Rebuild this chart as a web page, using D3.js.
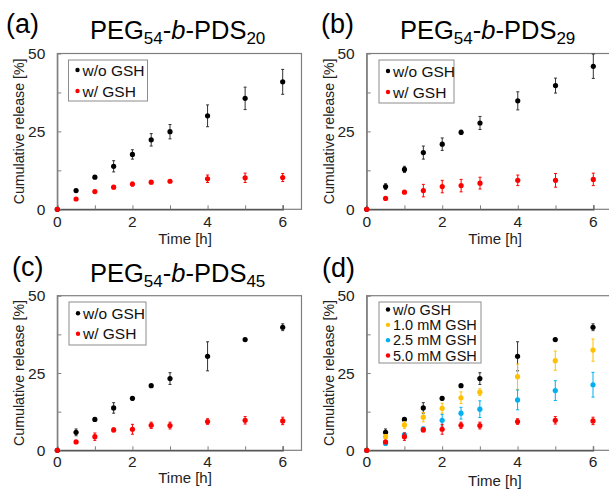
<!DOCTYPE html>
<html>
<head>
<meta charset="utf-8">
<script src="https://cdn.jsdelivr.net/npm/d3@7"></script>
<style>
  body { margin: 0; background: #fff; }
  text { font-family: "Liberation Sans", Arial, sans-serif; }
</style>
</head>
<body>
<div id="chart"></div>
<script>
const times = [0, 0.5, 1, 1.5, 2, 2.5, 3, 4, 5, 6];

const aWithout = [0, 6.0, 10.3, 13.8, 17.6, 22.3, 24.9, 30.0, 35.6, 40.9];
const aWithoutErr = [0, 0.4, 0.4, 1.8, 1.5, 2.0, 2.3, 3.5, 3.6, 4.0];
const aWith = [0, 3.3, 5.7, 7.1, 8.1, 8.7, 9.0, 9.8, 10.1, 10.2];
const aWithErr = [0, 0.3, 0.4, 0.5, 0.6, 0.5, 0.4, 1.2, 1.5, 1.3];

const bWithout = [0, 7.3, 12.8, 18.2, 20.9, 24.7, 27.7, 34.8, 39.7, 45.9];
const bWithoutErr = [0, 0.9, 1.0, 2.1, 2.0, 0.7, 2.1, 2.9, 2.4, 3.9];
const bWith = [0, 3.5, 5.5, 6.0, 7.3, 7.6, 8.4, 9.3, 9.3, 9.6];
const bWithErr = [0, 0.3, 0.4, 2.0, 2.0, 2.0, 1.9, 1.7, 2.2, 2.0];

const cWithout = [0, 5.8, 10.0, 13.7, 16.8, 20.9, 23.2, 30.4, 35.8, 39.8];
const cWithoutErr = [0, 1.1, 0.4, 1.7, 0.6, 0.3, 1.9, 4.7, 0.4, 1.1];
const cWith = [0, 2.7, 4.4, 6.6, 6.8, 8.1, 8.0, 9.3, 9.7, 9.5];
const cWithErr = [0, 0.4, 1.2, 0.6, 1.6, 1.0, 1.1, 0.9, 1.2, 1.2];

const gsh10 = [0, 4.4, 8.2, 10.7, 13.6, 17.0, 18.8, 23.8, 29.0, 32.4];
const gsh10Err = [0, 0.6, 1.1, 1.5, 1.6, 1.9, 1.1, 4.1, 3.1, 3.6];
const gsh25 = [0, 2.2, 5.0, 6.9, 9.7, 12.0, 13.3, 16.3, 19.3, 21.2];
const gsh25Err = [0, 0.4, 0.6, 0.6, 1.9, 1.9, 2.7, 3.2, 3.2, 4.0];

const xTicks = [0, 2, 4, 6];
const yTicks = [0, 25, 50];

const BLACK = "#000", RED = "#ff0000", ORANGE = "#ffc000", BLUE = "#00b0f0";

const panels = [
  { tag: "(a)", sub: "20", left: 57.3, x6: 282.7, top: 53.5, bottom: 209.3,
    tagX: 6, tagY: 33, titleX: 90, titleY: 39, timeY: 244, tickDy: 18,
    legend: { x: 68.5, y: 60, w: 79, h: 41, step: 21, fs: 15.5 },
    series: [
      { name: "w/o GSH", color: BLACK, v: aWithout, e: aWithoutErr },
      { name: "w/ GSH", color: RED, v: aWith, e: aWithErr }] },
  { tag: "(b)", sub: "29", left: 366.7, x6: 593.3, top: 53.5, bottom: 209.3,
    tagX: 321, tagY: 33, titleX: 400, titleY: 39, timeY: 244, tickDy: 18,
    legend: { x: 379, y: 60, w: 75, h: 43, step: 21, fs: 15.5 },
    series: [
      { name: "w/o GSH", color: BLACK, v: bWithout, e: bWithoutErr },
      { name: "w/ GSH", color: RED, v: bWith, e: bWithErr }] },
  { tag: "(c)", sub: "45", left: 57.3, x6: 282.7, top: 295.7, bottom: 450.3,
    tagX: 12, tagY: 276, titleX: 90, titleY: 282, timeY: 483, tickDy: 17,
    legend: { x: 69, y: 302, w: 77, h: 43, step: 20.5, fs: 15.5 },
    series: [
      { name: "w/o GSH", color: BLACK, v: cWithout, e: cWithoutErr },
      { name: "w/ GSH", color: RED, v: cWith, e: cWithErr }] },
  { tag: "(d)", sub: null, left: 366.7, x6: 593, top: 295.7, bottom: 450.3,
    tagX: 322, tagY: 277, timeY: 486, tickDy: 17,
    legend: { x: 379, y: 302, w: 102, h: 61, step: 15.3, fs: 14.5 },
    series: [
      { name: "w/o GSH", color: BLACK, v: cWithout, e: cWithoutErr },
      { name: "1.0 mM GSH", color: ORANGE, v: gsh10, e: gsh10Err },
      { name: "2.5 mM GSH", color: BLUE, v: gsh25, e: gsh25Err },
      { name: "5.0 mM GSH", color: RED, v: cWith, e: cWithErr }] }
];

const svg = d3.select("#chart").append("svg")
  .attr("width", 609).attr("height", 489);

panels.forEach(p => {
  const x = d3.scaleLinear().domain([0, 6]).range([p.left, p.x6]);
  const y = d3.scaleLinear().domain([0, 50]).range([p.bottom, p.top]);
  const g = svg.append("g");

  // frame
  g.append("rect")
    .attr("x", x(0)).attr("y", y(50))
    .attr("width", x(6.5) - x(0)).attr("height", y(0) - y(50))
    .attr("fill", "none").attr("stroke", "#7f7f7f").attr("stroke-width", 1.2);

  // axes with inward ticks
  const xAxis = d3.axisBottom(x).tickValues([1, 2, 3, 4, 5, 6]).tickSize(-4).tickFormat("");
  g.append("g").attr("transform", `translate(0,${y(0)})`).call(xAxis)
    .call(s => s.select(".domain").attr("stroke", "#555").attr("stroke-width", 1.4))
    .call(s => s.selectAll(".tick line").attr("stroke", "#7f7f7f"));
  const yAxis = d3.axisLeft(y).tickValues([12.5, 25, 37.5]).tickSize(-4).tickFormat("");
  g.append("g").attr("transform", `translate(${x(0)},0)`).call(yAxis)
    .call(s => s.select(".domain").attr("stroke", "#7f7f7f").attr("stroke-width", 1.2))
    .call(s => s.selectAll(".tick line").attr("stroke", "#7f7f7f"));

  // tick labels
  g.selectAll(".xl").data(xTicks).join("text")
    .attr("x", d => x(d)).attr("y", y(0) + p.tickDy)
    .attr("text-anchor", "middle").attr("font-size", 15.5).attr("fill", "#222")
    .text(d => d);
  g.selectAll(".yl").data(yTicks).join("text")
    .attr("x", x(0) - 12).attr("y", d => y(d) + 5.5)
    .attr("text-anchor", "end").attr("font-size", 15.5).attr("fill", "#222")
    .text(d => d);

  // axis titles
  g.append("text")
    .attr("x", x(3.4)).attr("y", p.timeY)
    .attr("text-anchor", "middle").attr("font-size", 15).attr("fill", "#222")
    .text("Time [h]");
  g.append("text")
    .attr("transform", `translate(${x(0) - 33},${y(25)}) rotate(-90)`)
    .attr("text-anchor", "middle").attr("font-size", 14.2).attr("fill", "#222")
    .text("Cumulative release [%]");

  // panel tag and title
  g.append("text").attr("x", p.tagX).attr("y", p.tagY)
    .attr("font-size", 27).text(p.tag);
  if (p.sub) {
    const t = g.append("text").attr("x", p.titleX).attr("y", p.titleY)
      .attr("font-size", 25.5);
    t.append("tspan").text("PEG");
    t.append("tspan").attr("font-size", 17).attr("dy", 5).text("54");
    t.append("tspan").attr("dy", -5).text("-");
    t.append("tspan").attr("font-style", "italic").text("b");
    t.append("tspan").text("-PDS");
    t.append("tspan").attr("font-size", 17).attr("dy", 5).text(p.sub);
  }

  // data
  p.series.forEach(s => {
    const pts = times.map((t, i) => ({ t, v: s.v[i], e: s.e[i] }));
    const sg = g.append("g");
    const eb = pts.filter(d => d.e > 0);
    const ec = s.color === BLACK ? "#333" : s.color;
    sg.selectAll(".eb").data(eb).join("line")
      .attr("x1", d => x(d.t)).attr("x2", d => x(d.t))
      .attr("y1", d => y(d.v - d.e)).attr("y2", d => y(d.v + d.e))
      .attr("stroke", ec).attr("stroke-width", 1);
    [1, -1].forEach(sign => {
      sg.selectAll(".cap" + sign).data(eb).join("line")
        .attr("x1", d => x(d.t) - 1.5).attr("x2", d => x(d.t) + 1.5)
        .attr("y1", d => y(d.v + sign * d.e)).attr("y2", d => y(d.v + sign * d.e))
        .attr("stroke", ec).attr("stroke-width", 1);
    });
    sg.selectAll("circle").data(pts).join("circle")
      .attr("cx", d => x(d.t)).attr("cy", d => y(d.v)).attr("r", 2.6)
      .attr("fill", s.color);
  });

  // legend
  const L = p.legend;
  const lg = g.append("g");
  lg.append("rect").attr("x", L.x).attr("y", L.y).attr("width", L.w).attr("height", L.h)
    .attr("fill", "#fff").attr("stroke", "#8c8c8c").attr("stroke-width", 1);
  p.series.forEach((s, i) => {
    const cy = L.y + (L.h - L.step * (p.series.length - 1)) / 2 + i * L.step;
    lg.append("circle").attr("cx", L.x + 9).attr("cy", cy).attr("r", 2.2).attr("fill", s.color);
    lg.append("text").attr("x", L.x + 14).attr("y", cy + L.fs * 0.36)
      .attr("font-size", L.fs).attr("fill", "#111").text(s.name);
  });
});
</script>
</body>
</html>
